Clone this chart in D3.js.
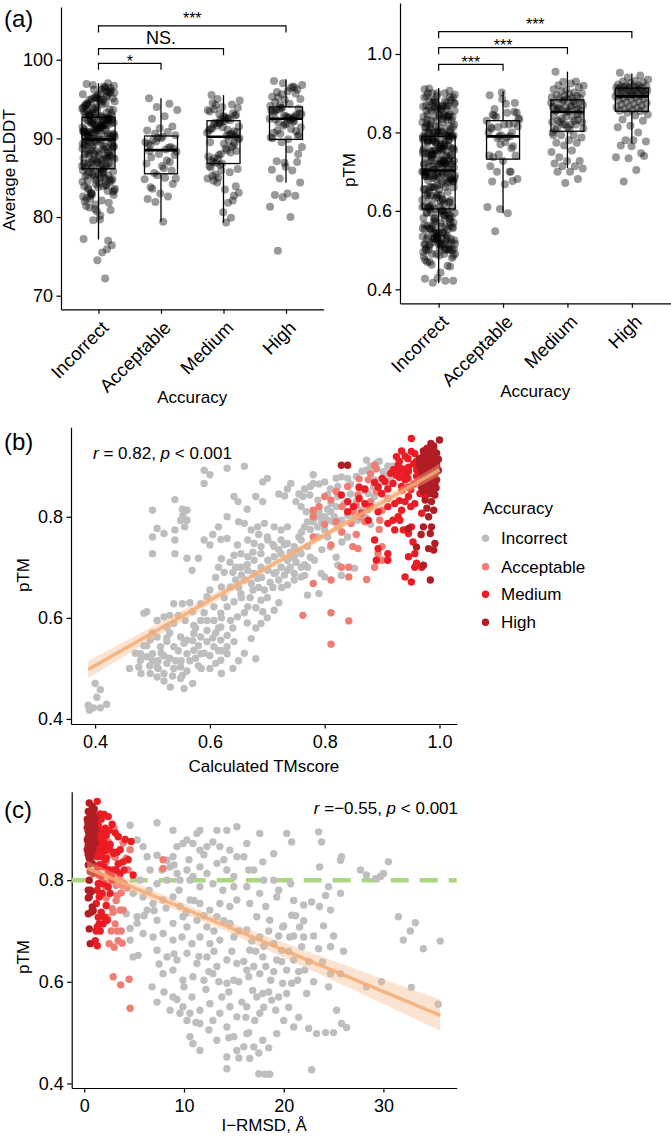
<!DOCTYPE html>
<html><head><meta charset="utf-8">
<script src="https://cdn.jsdelivr.net/npm/d3@7"></script>
<style>
body{margin:0;background:#fff;}
svg{display:block;}
</style></head><body>
<svg id="chart" width="671" height="1139"></svg>
<script>
// ---------------- DATA ----------------
const categories = ["Incorrect", "Acceptable", "Medium", "High"];
const catColors = ["#bebebe", "#f17c74", "#ec1c24", "#b01e24"];

// (a) average pLDDT per accuracy class
const plddtIncorrect = [
96.9,95.4,93.1,94.7,96.2,92.9,95.8,93.6,94.1,96.5,93.3,95.1,92.8,94.4,97.0,93.9,95.6,94.9,93.2,96.1,92.7,94.2,95.3,93.7,96.7,94.6,93.0,95.9,94.0,93.4,96.3,95.0,92.8,94.8,93.5,96.0,95.2,93.8,94.3,92.9,96.4,95.5,93.1,94.5,96.8,93.6,95.7,94.1,92.7,95.3,93.9,96.6,94.7,93.2,95.0,94.4,93.3,96.2,95.8,92.8,94.9,93.7,95.1,
91.2,90.4,92.1,89.9,91.7,90.8,92.5,90.1,91.4,92.3,90.6,91.9,90.2,92.6,91.0,90.7,92.0,91.5,90.3,92.4,91.1,90.9,91.8,90.0,92.2,91.3,90.5,91.6,92.6,90.2,91.9,90.8,92.3,91.0,90.4,91.7,92.1,90.6,91.4,90.1,92.5,91.2,90.9,91.6,92.0,90.3,91.8,90.7,92.4,91.1,90.5,91.3,92.2,90.0,91.5,90.8,92.6,91.9,90.2,91.0,92.3,90.6,91.7,
88.7,87.3,89.5,86.6,88.1,89.2,87.8,86.3,88.9,87.1,89.7,86.8,88.4,87.5,89.0,86.2,88.6,87.9,89.4,86.5,88.0,87.4,89.8,86.9,88.3,87.0,89.1,86.4,88.8,87.6,89.6,86.7,88.2,87.2,89.3,86.1,88.5,87.7,89.9,86.3,88.9,87.3,89.0,86.6,88.1,87.8,89.5,86.8,88.6,87.1,89.2,86.2,88.4,87.5,89.7,86.5,88.7,87.9,89.4,86.9,88.0,87.4,89.1,
85.8,84.9,83.7,85.3,84.2,82.6,85.9,83.1,84.6,85.5,81.4,84.0,85.1,83.4,82.1,85.7,84.4,80.7,83.9,85.0,82.9,84.8,79.7,85.4,83.3,81.0,84.5,85.6,82.3,80.9,83.8,85.2,84.1,79.6,82.8,85.8,83.5,81.8,84.7,77.2,85.0,83.0,76.4,84.3,82.4,75.9,85.3,83.6,75.5,81.2,84.8,74.5,82.0,72.2,85.5,83.2,80.2,84.6,77.0,81.6,85.9,83.9,82.7];
const plddtAcceptable = [95.1,94.4,94.0,93.6,92.8,92.5,91.5,91.3,91.0,90.8,90.6,90.4,
90.2,89.1,88.9,90.1,89.5,88.6,89.8,88.7,90.0,89.3,88.8,89.6,
88.3,86.2,87.6,85.9,88.0,86.8,87.2,85.6,87.9,86.5,88.4,87.0,
85.3,84.8,85.0,83.6,84.2,83.0,82.3,82.6,81.9,84.9,79.4,83.8];
const plddtMedium = [95.5,94.3,93.1,94.8,92.5,93.7,92.9,94.0,93.4,92.3,95.0,93.9,92.7,94.5,93.2,92.4,93.6,92.6,94.2,93.0,92.8,
91.2,90.6,92.0,91.5,90.3,91.8,90.9,92.1,91.0,90.5,91.6,90.8,92.2,91.3,90.4,91.9,90.7,91.1,92.0,90.2,91.4,
89.5,88.2,87.4,89.9,88.7,87.0,89.1,88.0,87.7,89.7,86.9,88.4,89.3,87.2,88.9,87.9,90.0,88.5,87.5,89.4,86.8,
86.5,85.7,84.4,86.1,83.5,85.2,82.1,86.6,84.9,81.8,85.4,83.9,80.6,86.3,79.9,85.0,83.1,79.3,84.6,82.7,85.9];
const plddtHigh = [97.3,96.5,95.6,96.8,94.4,95.9,96.2,94.9,95.3,96.6,94.2,95.0,96.0,94.6,95.7,97.0,94.1,96.4,95.2,
93.8,92.8,93.4,92.6,93.9,93.1,92.7,93.6,93.0,92.9,93.5,92.5,93.7,93.2,92.6,93.3,92.8,93.9,92.5,
92.3,91.0,90.3,91.8,90.0,92.1,90.6,91.4,89.9,92.4,90.9,91.6,90.1,91.2,92.0,90.5,91.9,90.7,92.2,
89.5,88.9,88.6,87.1,87.0,86.9,86.0,85.9,84.9,84.4,83.0,82.8,82.7,82.5,81.3,80.0,75.7,88.0,86.4];

// box statistics: [lower whisker, Q1, median, Q3, upper whisker]
const plddtBoxes = [[77.15,86.13,89.87,92.67,97.0],[79.4,85.5,88.5,90.3,95.1],[79.3,86.8,90.2,92.24,95.5],[84.35,89.87,92.5,94.0,97.5]];
const ptmBoxes = [[0.416,0.605,0.703,0.79,0.913],[0.594,0.732,0.79,0.83,0.905],[0.709,0.803,0.852,0.883,0.955],[0.773,0.854,0.892,0.913,0.95]];

// significance brackets: [from, to, label, bracket value, label baseline value]
const plddtBrackets = [["Incorrect","Acceptable","*",99.54,99.1],["Incorrect","Medium","NS.",101.4,102.0],["Incorrect","High","***",104.29,104.6]];
const ptmBrackets = [["Incorrect","Acceptable","***",0.9737,0.964],["Incorrect","Medium","***",1.0161,1.0076],["Incorrect","High","***",1.0569,1.0609]];

// (b) [calculated TMscore, pTM]
const tmPtmIncorrect = [
[0.59,0.892],[0.59,0.866],[0.60,0.883],[0.63,0.896],[0.539,0.834],[0.552,0.815],[0.553,0.803],[0.549,0.793],[0.56,0.813],[0.56,0.793],[0.556,0.78],[0.50,0.813],[0.50,0.76],[0.508,0.777],[0.52,0.767],[0.539,0.774],[0.539,0.754],[0.50,0.727],[0.539,0.727],[0.56,0.718],[0.58,0.718],[0.569,0.694],[0.59,0.754],[0.60,0.744],[0.619,0.755],[0.63,0.757],[0.63,0.80],[0.642,0.84],[0.649,0.83],[0.62,0.717],[0.642,0.724],[0.648,0.744],
[0.485,0.609],[0.49,0.612],[0.508,0.595],[0.52,0.602],[0.53,0.605],[0.537,0.628],[0.552,0.628],[0.57,0.612],[0.584,0.628],[0.595,0.642],[0.60,0.655],[0.62,0.661],[0.636,0.661],[0.645,0.675],[0.607,0.622],[0.619,0.609],[0.63,0.622],[0.642,0.632],[0.525,0.582],[0.537,0.589],[0.557,0.595],[0.572,0.585],[0.584,0.595],[0.595,0.595],[0.607,0.595],[0.619,0.582],[0.636,0.595],[0.648,0.602],[0.496,0.556],[0.508,0.562],[0.514,0.543],[0.525,0.553],[0.537,0.543],[0.549,0.562],[0.56,0.556],[0.572,0.569],[0.584,0.562],[0.595,0.553],[0.607,0.543],[0.619,0.556],[0.63,0.543],[0.642,0.553],[0.479,0.529],[0.479,0.516],[0.476,0.503],[0.49,0.523],[0.50,0.529],[0.508,0.503],[0.525,0.51],[0.537,0.50],[0.549,0.503],[0.496,0.49],[0.508,0.483],[0.52,0.49],[0.531,0.463],[0.549,0.48],[0.552,0.486],[0.56,0.529],[0.572,0.536],[0.584,0.529],[0.619,0.516],[0.63,0.529],[0.40,0.47],[0.409,0.458],[0.42,0.429],[0.388,0.427],[0.397,0.422],[0.39,0.417],[0.409,0.422],[0.403,0.443],
[0.66,0.90],[0.692,0.869],[0.70,0.876],[0.741,0.866],[0.73,0.841],[0.692,0.83],[0.78,0.883],[0.78,0.866],[0.80,0.869],[0.82,0.876],[0.829,0.879],[0.84,0.876],[0.823,0.86],[0.873,0.912],[0.89,0.906],[0.873,0.892],[0.902,0.889],[0.91,0.90],[0.919,0.90],[0.762,0.84],[0.774,0.843],[0.788,0.833],[0.805,0.843],[0.823,0.84],[0.834,0.826],[0.811,0.826],[0.759,0.82],[0.768,0.81],[0.78,0.803],[0.794,0.80],[0.805,0.793],[0.817,0.80],[0.829,0.793],[0.84,0.803],[0.852,0.80],[0.788,0.78],[0.80,0.774],[0.823,0.78],[0.829,0.77],[0.846,0.787],[0.858,0.793],[0.864,0.813],[0.876,0.823],[0.887,0.84],[0.893,0.859],[0.887,0.873],[0.899,0.869],[0.91,0.863],[0.876,0.846],[0.885,0.859],
[0.66,0.787],[0.672,0.774],[0.683,0.78],[0.695,0.787],[0.712,0.78],[0.724,0.774],[0.735,0.78],
[0.666,0.754],[0.677,0.747],[0.689,0.741],[0.701,0.754],[0.712,0.741],[0.724,0.754],[0.735,0.747],[0.747,0.741],[0.759,0.754],
[0.654,0.727],[0.666,0.721],[0.677,0.714],[0.689,0.727],[0.701,0.714],[0.712,0.721],[0.724,0.727],[0.735,0.714],[0.747,0.721],[0.759,0.727],
[0.654,0.70],[0.666,0.694],[0.677,0.688],[0.689,0.70],[0.701,0.694],[0.712,0.688],[0.724,0.70],[0.735,0.694],[0.747,0.688],[0.759,0.70],[0.765,0.684],
[0.66,0.675],[0.672,0.668],[0.683,0.678],[0.747,0.675],[0.759,0.681],
[0.77,0.70],[0.782,0.714],[0.77,0.741],[0.788,0.76],[0.805,0.76],[0.794,0.688],[0.80,0.681],[0.823,0.704],[0.829,0.684],[0.852,0.698],
[0.654,0.648],[0.666,0.622],[0.689,0.635],[0.692,0.612],[0.689,0.589],[0.712,0.615],[0.672,0.559],[0.68,0.519],[0.77,0.645],[0.79,0.648],
[0.61,0.57],[0.615,0.535],[0.62,0.60],[0.625,0.64],[0.61,0.68],[0.615,0.70],[0.625,0.69],[0.635,0.71],[0.64,0.69],[0.65,0.66],[0.655,0.64],[0.66,0.61],[0.665,0.59],[0.67,0.64],[0.675,0.655],[0.68,0.62],[0.685,0.66],[0.69,0.68],[0.695,0.655],[0.70,0.64],[0.705,0.67],[0.71,0.66],[0.715,0.69],[0.72,0.675],[0.725,0.66],[0.73,0.685],[0.735,0.665],[0.74,0.70],[0.745,0.72],[0.75,0.735],[0.755,0.76],[0.76,0.77],[0.765,0.78],[0.77,0.79],[0.775,0.775],[0.78,0.79],[0.785,0.80],[0.79,0.81],[0.795,0.79],[0.80,0.80],[0.805,0.815],[0.81,0.81],[0.815,0.79],[0.82,0.82],[0.70,0.60],[0.72,0.63],[0.68,0.58],[0.66,0.53],[0.65,0.515],[0.64,0.50],[0.62,0.49],[0.60,0.50],[0.58,0.505],[0.57,0.47],[0.555,0.46],[0.575,0.58],[0.59,0.61],[0.565,0.63],[0.545,0.605],[0.53,0.57],[0.52,0.525],[0.51,0.515],[0.495,0.505],[0.485,0.545],[0.50,0.57],[0.605,0.765],[0.615,0.78],[0.65,0.79],[0.665,0.815],[0.68,0.84],[0.72,0.845],[0.735,0.855],[0.75,0.83],[0.755,0.845],[0.765,0.855],[0.775,0.86],[0.79,0.865],[0.81,0.855],[0.845,0.865],[0.855,0.88],[0.865,0.89],[0.88,0.90],[0.895,0.91],[0.905,0.88],[0.915,0.875],[0.92,0.89],[0.86,0.86],[0.845,0.845],[0.855,0.83],[0.87,0.80],[0.88,0.785],[0.84,0.76],[0.83,0.75],[0.81,0.74],[0.82,0.72],[0.795,0.735],[0.775,0.72],[0.765,0.705],[0.75,0.71],[0.74,0.73],[0.73,0.745],[0.72,0.735],[0.71,0.745],[0.70,0.76],[0.685,0.765],[0.675,0.73],[0.665,0.705],[0.655,0.685],[0.645,0.70],
[0.46,0.50],[0.47,0.53],[0.48,0.49],[0.49,0.545],[0.50,0.515],[0.51,0.50],[0.515,0.53],[0.52,0.475],[0.525,0.56],[0.53,0.52],[0.535,0.485],[0.54,0.515],[0.545,0.535],[0.55,0.515],[0.555,0.55],[0.56,0.495],[0.565,0.515],[0.57,0.555],[0.575,0.52],[0.58,0.545],[0.585,0.50],[0.59,0.53],[0.595,0.575],[0.60,0.525],[0.605,0.56],[0.61,0.51],[0.615,0.58],[0.62,0.535],[0.63,0.565],[0.64,0.58]];
const tmPtmAcceptable = [[0.78,0.813],[0.78,0.76],[0.811,0.744],[0.811,0.833],[0.846,0.787],[0.858,0.843],[0.87,0.853],[0.887,0.902],[0.849,0.741],[0.829,0.70],
[0.842,0.70],[0.842,0.681],[0.78,0.668],[0.811,0.675],[0.873,0.676],[0.762,0.605],[0.811,0.61],[0.842,0.594],[0.811,0.548],[0.90,0.741],
[0.893,0.727],[0.90,0.714],[0.887,0.70],[0.90,0.813],[0.91,0.836],[0.876,0.873],[0.858,0.737],[0.855,0.823],[0.896,0.793],[0.78,0.80],
[0.79,0.82],[0.80,0.84],[0.82,0.85],[0.83,0.82],[0.85,0.81],[0.86,0.80],[0.87,0.79],[0.88,0.83],[0.89,0.85],[0.84,0.86],
[0.86,0.875],[0.88,0.885],[0.89,0.895],[0.82,0.79],[0.80,0.785],[0.875,0.815],[0.895,0.775],[0.90,0.845],[0.855,0.765],[0.83,0.77]];
const tmPtmMedium = [[0.951,0.955],[0.934,0.93],[0.951,0.929],[0.925,0.919],[0.957,0.925],[0.94,0.92],[0.945,0.915],[0.93,0.91],[0.96,0.91],[0.928,0.902],[0.955,0.905],[0.969,0.899],[0.946,0.898],[0.935,0.895],[0.92,0.893],[0.96,0.893],[0.946,0.89],[0.928,0.888],[0.915,0.886],[0.965,0.887],[0.94,0.885],
[0.94,0.873],[0.963,0.873],[0.93,0.878],[0.905,0.87],[0.919,0.866],[0.934,0.86],[0.946,0.859],[0.955,0.865],[0.97,0.865],[0.96,0.88],[0.893,0.859],[0.91,0.855],[0.95,0.854],[0.87,0.855],[0.86,0.858],[0.925,0.882],[0.945,0.876],[0.887,0.868],[0.975,0.862],[0.90,0.876],[0.935,0.853],
[0.829,0.843],[0.84,0.83],[0.86,0.836],[0.87,0.826],[0.864,0.807],[0.893,0.81],[0.899,0.846],[0.91,0.82],[0.922,0.826],[0.946,0.84],[0.957,0.826],[0.966,0.846],[0.934,0.813],[0.969,0.807],[0.88,0.82],[0.85,0.82],[0.84,0.81],[0.95,0.82],[0.94,0.83],[0.93,0.832],[0.975,0.84],
[0.876,0.793],[0.919,0.793],[0.931,0.793],[0.91,0.787],[0.951,0.78],[0.937,0.774],[0.922,0.774],[0.946,0.767],[0.954,0.75],[0.887,0.754],[0.893,0.737],[0.957,0.727],[0.91,0.727],[0.946,0.721],[0.89,0.714],[0.91,0.714],[0.96,0.708],[0.957,0.70],[0.969,0.70],[0.94,0.681],[0.951,0.671],[0.928,0.80]];
const tmPtmHigh = [[1.0,0.952],[0.985,0.945],[0.99,0.94],[0.978,0.935],[0.99,0.932],[0.972,0.93],[0.982,0.928],[0.995,0.926],[0.975,0.922],[0.98,0.92],[0.992,0.919],[0.97,0.918],[0.985,0.917],[0.995,0.916],[0.965,0.915],[0.978,0.915],[0.988,0.914],[0.972,0.914],[0.998,0.914],
[0.829,0.902],[0.84,0.902],[0.975,0.911],[0.986,0.91],[0.995,0.909],[0.97,0.907],[0.98,0.906],[0.99,0.905],[0.965,0.903],[0.976,0.902],[0.995,0.901],[0.985,0.90],[0.972,0.898],[0.982,0.897],[0.992,0.896],[0.968,0.895],[0.978,0.894],[0.988,0.893],[0.998,0.892],
[0.975,0.89],[0.985,0.888],[0.993,0.886],[0.97,0.884],[0.98,0.882],[0.99,0.879],[0.976,0.877],[0.986,0.875],[0.995,0.873],[0.972,0.871],[0.982,0.869],[0.992,0.866],[0.978,0.864],[0.988,0.862],[0.968,0.86],[0.984,0.858],[0.994,0.857],[0.975,0.855],[0.99,0.854],
[0.972,0.85],[0.984,0.846],[0.992,0.843],[0.975,0.833],[0.986,0.83],[0.978,0.817],[0.99,0.813],[0.981,0.80],[0.972,0.78],[0.946,0.777],[0.986,0.78],[0.984,0.767],[0.992,0.747],[0.99,0.734],[0.981,0.737],[0.972,0.704],[0.984,0.675],[0.96,0.74],[0.968,0.765]];

// (c) I-RMSD (Å) for the correct classes, same order as their pTM pairs in (b)
const irmsdAcceptable = [2.4,3.2,2.8,3.5,2.1,4.2,2.6,3.0,3.6,3.3, 2.7,3.4,3.0,2.5,3.8,4.5,2.9,3.65,4.6,3.9, 2.3,3.1,3.7,3.3,2.2,3.9,2.9,7.9,4.0,3.6, 2.5,7.9,3.0,4.4,3.5,2.7,3.2,1.9,2.8,4.6, 2.4,3.4,2.0,3.8,4.3,2.6,3.7,3.1,2.2,3.3];
const irmsdMedium = [1.3,1.6,2.0,1.2,2.4,1.7,1.1,2.8,1.4,2.1,1.2,1.8,2.5,1.5,3.1,1.6,1.3,2.2,3.4,1.9,1.4,
1.4,2.0,1.2,2.6,1.7,3.6,1.3,2.3,1.5,4.1,1.8,2.9,1.2,3.3,2.1,1.6,4.7,1.4,2.5,1.9,3.0,
2.2,1.5,3.9,1.3,2.7,4.9,1.8,3.2,1.4,4.4,2.0,1.3,3.6,1.7,2.4,4.0,1.5,2.9,1.6,3.4,2.1,
1.4,2.0,1.6,2.4,1.3,1.8,2.6,1.5,2.2,1.2,1.7,2.0,1.4,2.3,1.5,1.9,1.3,1.6,1.2,1.1,1.3,2.8];
const irmsdHigh = [0.5,0.8,1.0,0.4,0.7,0.9,0.6,0.8,1.1,0.3,0.7,0.5,1.0,0.6,0.4,0.9,0.5,0.8,0.4,
0.6,0.9,0.4,0.7,1.0,0.5,0.6,0.9,0.3,0.6,0.8,1.1,0.5,0.7,0.4,0.6,0.9,0.5,0.8,
0.5,0.7,1.0,0.4,0.6,0.3,0.8,0.5,1.1,0.4,0.7,0.4,0.9,0.6,0.3,0.5,0.8,0.4,0.7,
0.4,0.7,0.5,0.8,0.4,0.6,0.9,0.5,0.4,0.7,0.6,0.5,0.8,0.4,0.7,0.5,0.6,0.9,0.4];
// (c) [I-RMSD, pTM] for incorrect models
const irmsdPtmIncorrect = [
[4.6,0.908],[7.3,0.913],[8.9,0.898],[11.3,0.892],[11.6,0.898],[13.3,0.898],[14.3,0.898],[15.3,0.905],
[5.3,0.879],[5.9,0.866],[6.3,0.846],[7.3,0.849],[8.3,0.839],[8.9,0.846],[9.3,0.866],[9.9,0.872],[10.3,0.879],[10.9,0.872],[11.6,0.859],[12.3,0.866],[12.9,0.875],[13.6,0.866],[14.6,0.859],[15.3,0.846],
[6.6,0.82],[8.6,0.826],[9.3,0.813],[10.3,0.82],[10.9,0.807],[11.6,0.826],[12.3,0.813],[13.3,0.833],[14.3,0.82],[15.0,0.807],
[5.6,0.80],[7.3,0.793],[8.3,0.80],[9.6,0.80],[10.6,0.80],[11.6,0.787],[12.9,0.793],[13.9,0.78],[15.0,0.787],
[4.9,0.774],[5.9,0.767],[6.9,0.754],[7.9,0.761],[8.9,0.767],[9.6,0.748],[10.6,0.761],[11.6,0.754],[12.6,0.741],[13.6,0.754],[14.6,0.748],[15.3,0.761],
[4.2,0.734],[5.3,0.728],[6.3,0.741],[7.3,0.721],[8.9,0.715],[9.9,0.728],[10.3,0.708],[11.3,0.721],[12.3,0.708],[13.3,0.728],[14.6,0.715],
[4.6,0.705],[5.3,0.715],[5.9,0.695],[6.9,0.688],[7.9,0.695],[8.9,0.682],[9.8,0.688],[10.8,0.675],[11.6,0.688],[12.6,0.675],[13.6,0.682],[15.0,0.688],
[4.6,0.682],[4.9,0.649],[5.4,0.652],
[7.3,0.662],[8.3,0.649],[9.3,0.643],[10.3,0.656],[11.3,0.636],[12.3,0.649],[13.3,0.63],[14.3,0.643],[15.3,0.636],
[7.9,0.616],[8.9,0.623],[9.9,0.603],[10.9,0.61],[12.0,0.603],[12.9,0.616],[14.3,0.597],[15.0,0.603],
[6.8,0.59],[7.3,0.56],[8.9,0.57],[9.9,0.551],[10.6,0.538],[11.6,0.544],[12.6,0.557],[13.6,0.538],[14.6,0.551],[15.3,0.531],
[8.6,0.544],[9.6,0.538],[10.3,0.524],[11.6,0.518],[12.9,0.524],[14.3,0.511],[15.0,0.492],
[10.6,0.492],[10.9,0.478],[11.6,0.465],[13.3,0.485],[14.3,0.452],[15.3,0.465],[14.3,0.429],
[17.6,0.892],[20.3,0.892],[20.8,0.875],[23.5,0.895],[23.8,0.875],[19.0,0.852],[17.9,0.836],[23.6,0.826],[25.8,0.846],[25.7,0.839],[27.7,0.82],[28.3,0.81],[29.2,0.803],[29.7,0.807],[30.0,0.813],[30.5,0.836],
[19.0,0.80],[20.7,0.793],[22.0,0.751],[22.8,0.757],[23.6,0.748],[24.7,0.741],[24.2,0.77],[24.5,0.787],[25.7,0.774],
[31.5,0.728],[33.2,0.716],[32.7,0.70],[32.0,0.682],[34.0,0.665],[35.7,0.68],[24.7,0.669],[23.9,0.639],[22.1,0.623],[24.7,0.616],[25.7,0.616],[28.3,0.59],[29.8,0.60],[32.8,0.589],[35.5,0.556],[25.3,0.544],
[22.5,0.508],[23.3,0.498],[24.2,0.50],[25.0,0.50],[25.8,0.518],[26.3,0.51],[22.8,0.427],[17.5,0.419],[18.1,0.418],[18.6,0.418],
[22.0,0.688],[21.6,0.708],[20.8,0.731],[21.8,0.669],[19.8,0.662],[19.3,0.643],[21.0,0.643],[19.9,0.597],[20.8,0.597],[20.3,0.577],[18.8,0.564],[19.2,0.544],[17.6,0.538],[17.9,0.485],[17.0,0.472],[16.6,0.449],
[16.3,0.872],[16.0,0.846],[17.0,0.82],[16.3,0.787],[17.6,0.774],[16.6,0.754],[18.2,0.748],[19.3,0.767],[17.3,0.728],[18.6,0.721],[19.9,0.708],[16.3,0.702],[17.6,0.688],[19.0,0.675],[16.6,0.662],[17.9,0.649],[16.3,0.623],[17.6,0.616],[18.7,0.603],[16.9,0.583],[17.9,0.577],[16.3,0.551],[17.1,0.524],[16.3,0.498],[16.0,0.472],[17.3,0.57],[20.6,0.688],[20.3,0.623],[21.4,0.603],[22.3,0.577],[20.0,0.524],[21.0,0.511],[19.3,0.498],
[9.5,0.78],[10.2,0.735],[11.0,0.76],[12.0,0.73],[13.0,0.70],[14.0,0.72],[15.5,0.70],[16.8,0.68],[17.2,0.66],[18.0,0.67],[18.5,0.70],[19.5,0.69],[20.0,0.71],[21.0,0.69],[11.5,0.65],[12.5,0.62],[13.5,0.60],[14.5,0.58],[15.5,0.60],[16.0,0.64],[16.5,0.61],[17.0,0.63],[18.2,0.63],[19.0,0.62],[19.8,0.64],[20.5,0.66],[13.0,0.66],[14.8,0.66],[15.8,0.56],[16.2,0.53],[18.0,0.55],[18.5,0.58],[19.5,0.57],[10.0,0.59],[8.0,0.58],[7.5,0.635],[9.0,0.655],[6.0,0.73],[7.0,0.74],[8.2,0.745],[6.5,0.78],[7.8,0.82],[9.0,0.83],[10.5,0.84],[12.0,0.85],[14.0,0.84],[16.5,0.82],[18.0,0.80],[19.5,0.78],[21.0,0.76],[22.0,0.72],[21.2,0.73],[23.0,0.69],[24.0,0.71],[25.0,0.69],[26.0,0.66],[23.5,0.665],[22.5,0.64],[21.5,0.62],[23.0,0.60],[24.5,0.59],[20.5,0.55],[21.5,0.53],[17.5,0.46],[18.5,0.47],[14.5,0.49],[12.5,0.505],[11.2,0.52],[15.5,0.45],[16.5,0.50],[13.8,0.57],[12.2,0.585],[10.8,0.57],[9.3,0.565]];

const plddtTicks = [70, 80, 90, 100];
const ptmTicks = [0.4, 0.6, 0.8, 1.0];
const tmTicks = [0.4, 0.6, 0.8, 1.0];
const irmsdTicks = [0, 10, 20, 30];
const annotB = {r: "0.82", p: "0.001"};
const annotC = {r: "\u22120.55", p: "0.001"};
const ptmThreshold = 0.8;

// ---------------- DRAWING ----------------
const FONT = '"Liberation Sans", Arial, Helvetica, sans-serif';
const TICK_FS = 18;
const svg = d3.select("#chart").attr("font-family", FONT);
svg.append("rect").attr("width", 671).attr("height", 1139).attr("fill", "#fff");

const plddtByCat = [plddtIncorrect, plddtAcceptable, plddtMedium, plddtHigh];
const tmPtmByCat = [tmPtmIncorrect, tmPtmAcceptable, tmPtmMedium, tmPtmHigh];
const irmsdByCat = [null, irmsdAcceptable, irmsdMedium, irmsdHigh];

function styleAxis(g, fs) {
  g.attr("font-family", FONT).attr("font-size", fs);
  g.select(".domain").attr("stroke", "#000").attr("stroke-width", 1.2);
  g.selectAll(".tick line").attr("stroke", "#000").attr("stroke-width", 1.2);
  g.selectAll(".tick text").attr("fill", "#000");
}
function jit(i) { return ((i * 0.6180339887 + 0.137) % 1) - 0.5; }

function stripPanel(opt) {
  const x = d3.scaleLinear().domain([0.4, 4.6]).range(opt.xr);
  const y = d3.scaleLinear().domain(opt.yd).range(opt.yr);
  const g = svg.append("g");
  const ya = g.append("g").attr("transform", `translate(${opt.xr[0]},0)`)
    .call(d3.axisLeft(y).tickValues(opt.ticks).tickFormat(opt.fmt).tickSize(4.5).tickPadding(3.5).tickSizeOuter(0));
  styleAxis(ya, TICK_FS);
  const xa = g.append("g").attr("transform", `translate(0,${opt.yr[0]})`)
    .call(d3.axisBottom(x).tickValues([1, 2, 3, 4]).tickFormat(i => categories[i - 1]).tickSize(4.5).tickSizeOuter(0));
  styleAxis(xa, 18.5);
  xa.selectAll(".tick text").attr("x", 0).attr("y", 0).attr("dy", "0.35em")
    .attr("text-anchor", "end").attr("transform", "translate(6,15) rotate(-45)");
  const hw = 16.5;
  opt.boxes.forEach((b, i) => {
    const cx = x(i + 1);
    const bg = g.append("g").attr("stroke", "#000").attr("fill", "none");
    bg.append("line").attr("x1", cx).attr("x2", cx).attr("y1", y(b[3])).attr("y2", y(b[4])).attr("stroke-width", 1.3);
    bg.append("line").attr("x1", cx).attr("x2", cx).attr("y1", y(b[1])).attr("y2", y(b[0])).attr("stroke-width", 1.3);
    bg.append("rect").attr("x", cx - hw).attr("width", 2 * hw).attr("y", y(b[3])).attr("height", y(b[1]) - y(b[3])).attr("stroke-width", 1.3);
    bg.append("line").attr("x1", cx - hw).attr("x2", cx + hw).attr("y1", y(b[2])).attr("y2", y(b[2])).attr("stroke-width", 2.6);
  });
  opt.values.forEach((vals, ci) => {
    g.append("g").selectAll("circle").data(vals).join("circle")
      .attr("cx", (d, i) => x(ci + 1) + jit(i) * 33)
      .attr("cy", d => y(d)).attr("r", 4)
      .attr("fill", "#000").attr("fill-opacity", 0.4);
  });
  opt.brackets.forEach(br => {
    const x1 = x(categories.indexOf(br[0]) + 1), x2 = x(categories.indexOf(br[1]) + 1);
    const yb = y(br[3]);
    g.append("path").attr("d", `M${x1},${yb + 6.5}V${yb}H${x2}V${yb + 6.5}`)
      .attr("fill", "none").attr("stroke", "#000").attr("stroke-width", 1.2);
    g.append("text").attr("x", (x1 + x2) / 2).attr("y", y(br[4])).attr("text-anchor", "middle")
      .attr("font-size", br[2] === "NS." ? 18 : 16).attr("fill", "#000").text(br[2]);
  });
  g.append("text").attr("x", (opt.xr[0] + opt.xr[1]) / 2).attr("y", opt.xTitleY).attr("text-anchor", "middle")
    .attr("font-size", 17).text("Accuracy");
  g.append("text").attr("transform", `translate(${opt.yTitleX},${opt.yTitleCY}) rotate(-90)`).attr("text-anchor", "middle")
    .attr("font-size", 17).text(opt.yTitle);
}

stripPanel({
  xr: [61, 323.5], yd: [68.27, 106.7], yr: [309.3, 7], ticks: plddtTicks, fmt: d3.format("d"),
  boxes: plddtBoxes, values: plddtByCat, brackets: plddtBrackets,
  xTitleY: 403, yTitleX: 15, yTitleCY: 170, yTitle: "Average pLDDT"
});
stripPanel({
  xr: [400, 670.5], yd: [0.3644, 1.13], yr: [303.3, 3], ticks: ptmTicks, fmt: d3.format(".1f"),
  boxes: ptmBoxes, values: tmPtmByCat.map(a => a.map(d => d[1])), brackets: ptmBrackets,
  xTitleY: 397, yTitleX: 355, yTitleCY: 170, yTitle: "pTM"
});
svg.append("text").attr("x", 4).attr("y", 27).attr("font-size", 24).text("(a)");

function linFit(pts) {
  const n = pts.length;
  const mx = d3.mean(pts, d => d[0]), my = d3.mean(pts, d => d[1]);
  let sxx = 0, sxy = 0;
  pts.forEach(d => { sxx += (d[0] - mx) ** 2; sxy += (d[0] - mx) * (d[1] - my); });
  const b = sxy / sxx, a = my - b * mx;
  let sse = 0; pts.forEach(d => { sse += (d[1] - a - b * d[0]) ** 2; });
  const s = Math.sqrt(sse / (n - 2));
  return { f: v => a + b * v, se: v => s * Math.sqrt(1 / n + (v - mx) ** 2 / sxx),
           xmin: d3.min(pts, d => d[0]), xmax: d3.max(pts, d => d[0]) };
}

function scatterPanel(opt) {
  const x = d3.scaleLinear().domain(opt.xd).range(opt.xr);
  const y = d3.scaleLinear().domain(opt.yd).range(opt.yr);
  const g = svg.append("g");
  const ya = g.append("g").attr("transform", `translate(${opt.xr[0]},0)`)
    .call(d3.axisLeft(y).tickValues([0.4, 0.6, 0.8]).tickFormat(d3.format(".1f")).tickSize(4.5).tickPadding(3.5).tickSizeOuter(0));
  styleAxis(ya, TICK_FS);
  const xa = g.append("g").attr("transform", `translate(0,${opt.yr[0]})`)
    .call(d3.axisBottom(x).tickValues(opt.xticks).tickFormat(opt.xfmt).tickSize(4.5).tickPadding(7).tickSizeOuter(0));
  styleAxis(xa, TICK_FS);
  if (opt.hline != null) {
    g.append("line").attr("x1", opt.xr[0]).attr("x2", opt.xr[1]).attr("y1", y(opt.hline)).attr("y2", y(opt.hline))
      .attr("stroke", "#acd581").attr("stroke-width", 4.5).attr("stroke-dasharray", "18,11");
  }
  opt.groups.forEach((pts, ci) => {
    g.append("g").selectAll("circle").data(pts).join("circle")
      .attr("cx", d => x(d[0])).attr("cy", d => y(d[1])).attr("r", 3.7).attr("fill", catColors[ci]);
  });
  const all = opt.groups.flat();
  const fit = linFit(all);
  const xs = d3.range(0, 81).map(i => fit.xmin + (fit.xmax - fit.xmin) * i / 80);
  g.append("path").datum(xs).attr("fill", "#f4b98c").attr("fill-opacity", 0.4)
    .attr("d", d3.area().x(v => x(v)).y0(v => y(fit.f(v) - 1.965 * fit.se(v))).y1(v => y(fit.f(v) + 1.965 * fit.se(v))));
  g.append("path").datum(xs).attr("fill", "none").attr("stroke", "#f2ac75").attr("stroke-opacity", 0.85).attr("stroke-width", 3.5)
    .attr("d", d3.line().x(v => x(v)).y(v => y(fit.f(v))));
  const t = g.append("text").attr("x", opt.annX).attr("y", opt.annY).attr("font-size", 17).attr("text-anchor", opt.annAnchor);
  t.append("tspan").attr("font-style", "italic").text("r");
  t.append("tspan").text(opt.annEq + opt.ann.r + ", ");
  t.append("tspan").attr("font-style", "italic").text("p");
  t.append("tspan").text(" < " + opt.ann.p);
  g.append("text").attr("x", (opt.xr[0] + opt.xr[1]) / 2).attr("y", opt.xTitleY).attr("text-anchor", "middle")
    .attr("font-size", 17).text(opt.xTitle);
  g.append("text").attr("transform", `translate(29,${opt.yTitleCY}) rotate(-90)`).attr("text-anchor", "middle")
    .attr("font-size", 17).text("pTM");
  g.append("text").attr("x", 4).attr("y", opt.labelY).attr("font-size", 24).text(opt.label);
}

scatterPanel({
  xd: [0.358, 1.030], xr: [71, 456.7], yd: [0.390, 0.977], yr: [724, 427.3],
  xticks: tmTicks, xfmt: d3.format(".1f"), groups: tmPtmByCat, hline: null,
  ann: annotB, annEq: " = ", annX: 93, annY: 459, annAnchor: "start",
  xTitle: "Calculated TMscore", xTitleY: 772, yTitleCY: 575, label: "(b)", labelY: 450
});

const cGroups = [irmsdPtmIncorrect].concat([1, 2, 3].map(ci =>
  irmsdByCat[ci].slice(0, tmPtmByCat[ci].length).map((r, i) => [r, tmPtmByCat[ci][i][1]])));
scatterPanel({
  xd: [-1.26, 37.35], xr: [71.7, 456.7], yd: [0.391, 0.974], yr: [1088, 791.7],
  xticks: irmsdTicks, xfmt: d3.format("d"), groups: cGroups, hline: ptmThreshold,
  ann: annotC, annEq: " =", annX: 458, annY: 814, annAnchor: "end",
  xTitle: "I\u2212RMSD, \u00c5", xTitleY: 1131, yTitleCY: 957, label: "(c)", labelY: 818
});

const lg = svg.append("g");
lg.append("text").attr("x", 483).attr("y", 514).attr("font-size", 17).text("Accuracy");
const legendY = [538.3, 566.7, 594.3, 622.3];
categories.forEach((c, i) => {
  lg.append("circle").attr("cx", 485.5).attr("cy", legendY[i]).attr("r", 3.7).attr("fill", catColors[i]);
  lg.append("text").attr("x", 501).attr("y", legendY[i]).attr("dy", "0.35em").attr("font-size", 17).text(c);
});
</script>
</body></html>
